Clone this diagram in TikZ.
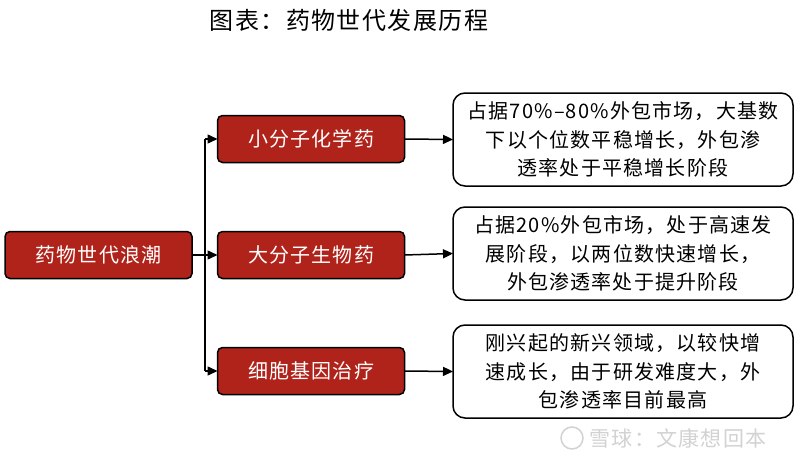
\documentclass[tikz,border=0pt]{standalone}
\usepackage{fontspec}
\setmainfont{Noto Sans CJK SC}
\newfontfamily\cjk{Noto Sans CJK SC}
\newfontfamily\cjksp[LetterSpace=6]{Noto Sans CJK SC}
\usetikzlibrary{arrows.meta}
\definecolor{boxred}{RGB}{176,35,27}
\definecolor{wmgray}{RGB}{210,210,210}
\begin{document}
\begin{tikzpicture}[x=1pt,y=-1pt,
  redbox/.style={draw=black,line width=1.5pt,fill=boxred,rounded corners=5pt,
    minimum width=187pt,minimum height=47pt,inner sep=0pt,outer sep=0pt,
    text=white,font=\cjksp\fontsize{20}{24}\selectfont},
  infobox/.style={draw=black,line width=1.5pt,fill=white,rounded corners=12pt,
    minimum width=340pt,minimum height=93pt,inner sep=0pt,outer sep=0pt,
    align=center,font=\cjksp\fontsize{20}{28.5}\selectfont},
  conn/.style={line width=1.5pt,-{Triangle[length=10pt,width=9pt]}},
  plain/.style={line width=1.5pt}]
\useasboundingbox (0,0) rectangle (800,463);
\fill[white] (0,0) rectangle (800,463);

\node[font=\cjksp\fontsize{24}{28}\selectfont] (title) at (349,20) {图表：药物世代发展历程};

\node[redbox] (root) at (98.5,255) {药物世代浪潮};
\node[redbox] (a1) at (311,139) {小分子化学药};
\node[redbox] (a2) at (311,255) {大分子生物药};
\node[redbox] (a3) at (311,371) {细胞基因治疗};

\node[infobox] (b1) at (623,139.5) {占据70\%–80\%外包市场，大基数\\下以个位数平稳增长，外包渗\\透率处于平稳增长阶段};
\node[infobox] (b2) at (623,253.5) {占据20\%外包市场，处于高速发\\展阶段，以两位数快速增长，\\外包渗透率处于提升阶段};
\node[infobox] (b3) at (623,371.5) {刚兴起的新兴领域，以较快增\\速成长，由于研发难度大，外\\包渗透率目前最高};

\coordinate (vt) at (205,139);
\coordinate (vb) at (205,371);
\draw[plain] (vt) -- (vb);
\draw[conn] (root.east) -- (a2.west);
\draw[conn] (vt) -- (a1.west);
\draw[conn] (vb) -- (a3.west);
\draw[conn] (a1.east) -- (b1.west);
\draw[conn] (a2.east) -- (b2.west);
\draw[conn] (a3.east) -- (b3.west);

\node[draw=wmgray,line width=1.5pt,circle,minimum size=22pt,inner sep=0pt] (logo) at (572,438) {};
\node[text=wmgray,font=\cjksp\fontsize{21}{24}\selectfont,anchor=west] (wm) at (586,438) {雪球：文康想回本};
\end{tikzpicture}
\end{document}
